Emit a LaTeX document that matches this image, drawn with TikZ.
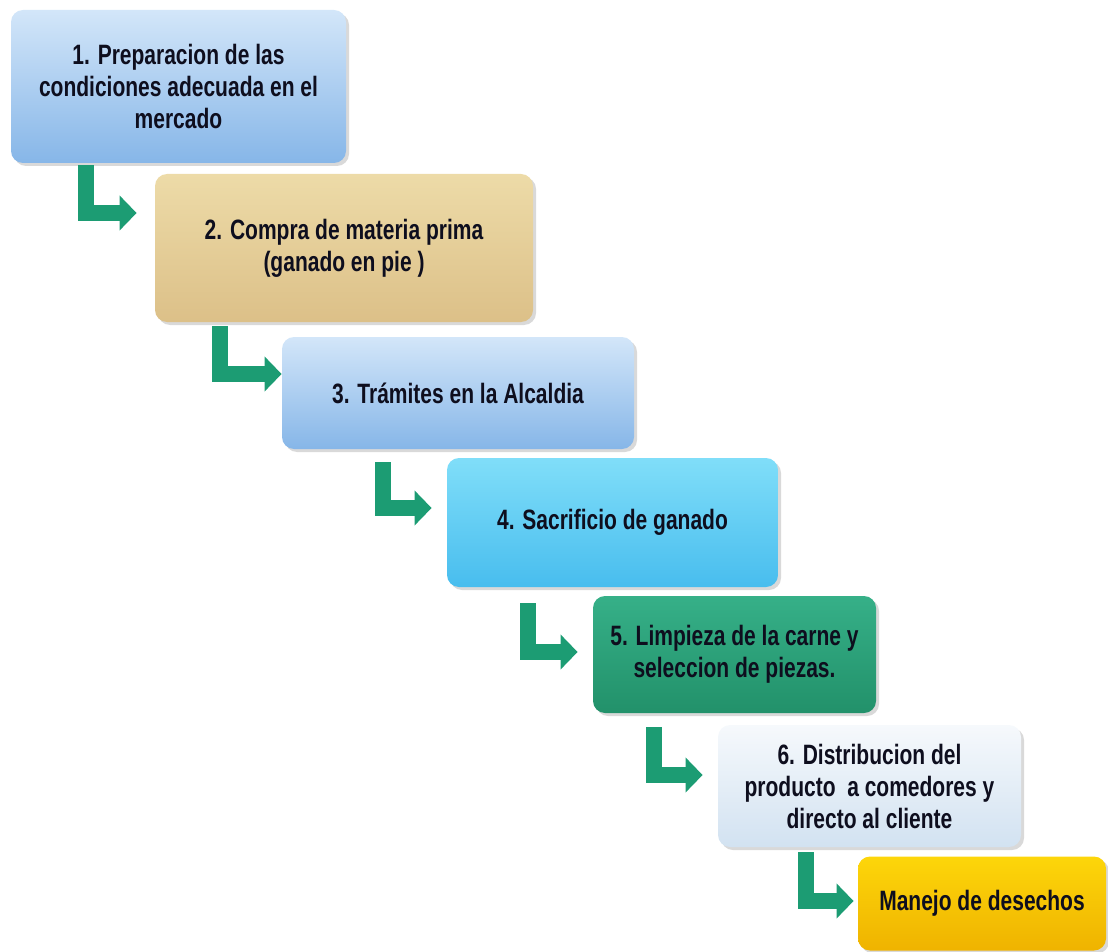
\documentclass[tikz,border=0pt]{standalone}
\usepackage{fontspec}
\setmainfont{Liberation Sans}[FakeStretch=0.75]
\usetikzlibrary{calc}
\usetikzlibrary{shadows}
\usetikzlibrary{arrows.meta}
\definecolor{texto}{HTML}{0E0E1E}
\definecolor{verde}{HTML}{1C9C73}
\definecolor{azulA}{HTML}{D3E6F9}
\definecolor{azulB}{HTML}{86B6E8}
\definecolor{papiroA}{HTML}{EDDBA8}
\definecolor{papiroB}{HTML}{DCC088}
\definecolor{cianA}{HTML}{80DEF9}
\definecolor{cianB}{HTML}{48BDEE}
\definecolor{tealA}{HTML}{36B088}
\definecolor{tealB}{HTML}{22916A}
\definecolor{blancoA}{HTML}{F6F9FC}
\definecolor{blancoB}{HTML}{D2E2F1}
\definecolor{oroA}{HTML}{FDD60A}
\definecolor{oroB}{HTML}{EFB300}
\tikzset{
 paso/.style={rectangle,rounded corners=6pt,align=center,text=texto,
  font=\fontsize{14}{16}\selectfont\bfseries,
  drop shadow={opacity=0.3,shadow xshift=1.5pt,shadow yshift=-1.5pt}},
 flecha/.style={draw=verde,line width=8pt,-{Triangle[width=17pt,length=8.5pt]}}
}

\begin{document}
\begin{tikzpicture}[x=0.5pt,y=-0.5pt]
 \useasboundingbox (0,0) rectangle (1108,952);
 \node[paso,minimum width=167.5pt,minimum height=76.5pt,top color=azulA,bottom color=azulB] (preparacion) at (178.5,86.5) {1. Preparacion de las\\condiciones adecuada en el\\mercado};
 \node[paso,minimum width=189pt,minimum height=74pt,top color=papiroA,bottom color=papiroB] (compra) at (344,248) {2. Compra de materia prima\\(ganado en pie )};
 \node[paso,minimum width=176pt,minimum height=56pt,top color=azulA,bottom color=azulB] (tramites) at (458,393) {3. Trámites en la Alcaldia};
 \node[paso,minimum width=165.5pt,minimum height=64.5pt,top color=cianA,bottom color=cianB] (sacrificio) at (612.5,522.5) {4. Sacrificio de ganado};
 \node[paso,minimum width=141.5pt,minimum height=58.5pt,top color=tealA,bottom color=tealB] (limpieza) at (734.5,654.5) {5. Limpieza de la carne y\\seleccion de piezas.};
 \node[paso,minimum width=151.5pt,minimum height=61pt,top color=blancoA,bottom color=blancoB] (distribucion) at (869.5,786) {6. Distribucion del\\producto~ a comedores y\\directo al cliente};
 \node[paso,minimum width=124pt,minimum height=47pt,top color=oroA,bottom color=oroB] (desechos) at (982,903.5) {Manejo de desechos};
 \draw[flecha] ($(preparacion.south west)+(75,2)$) |- ($(compra.west)+(-18,-35)$);
 \draw[flecha] ($(compra.south west)+(65,4)$) |- ($(tramites.west)+(0,-19)$);
 \draw[flecha] ($(tramites.south west)+(101,13)$) |- ($(sacrificio.west)+(-15,-14.5)$);
 \draw[flecha] ($(sacrificio.south west)+(81,16)$) |- ($(limpieza.west)+(-15,-2.5)$);
 \draw[flecha] ($(limpieza.south west)+(61,14)$) |- ($(distribucion.west)+(-15,-11)$);
 \draw[flecha] ($(distribucion.south west)+(88,5)$) |- ($(desechos.west)+(-4,-2.5)$);
\end{tikzpicture}
\end{document}
